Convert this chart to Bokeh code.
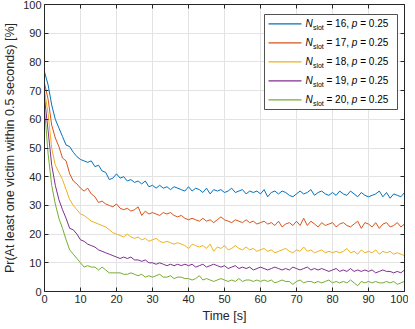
from bokeh.plotting import figure
from bokeh.models import Range1d, LinearAxis, FixedTicker, CustomJSTickFormatter
from bokeh.core.properties import value
from bokeh.embed import file_html
from bokeh.resources import INLINE

time_s = list(range(0, 101))

n_slot = [16, 17, 18, 19, 20]
p_val = 0.25

pr_16 = [76.5, 72, 65, 60, 57, 54, 51, 50.5, 48.5, 47, 46, 45.5, 45, 45.5, 43.5, 44, 42, 41.5, 39, 39.5,
         41, 39.5, 40, 38.5, 39, 38, 38.5, 37.5, 38.5, 36.5, 37, 36, 37, 36, 36.5, 35.5, 36.5, 36, 35.5, 35,
         36.5, 35, 36, 35.5, 34.5, 36, 34, 35.5, 35, 35.5, 34.5, 35, 36, 34.5, 35, 35.5, 34, 35, 34.5, 35,
         34, 35.5, 33, 34.5, 35, 34, 35, 34.5, 33.5, 33, 34, 35, 34, 34.5, 35.5, 33.5, 34.5, 35, 34, 33.5,
         34.5, 33.5, 35, 34, 33.5, 35, 34, 33, 34.5, 33.5, 33, 33.5, 34, 35, 33, 34.5, 32.5, 34, 33.5, 33, 34.5]
pr_17 = [72.5, 67, 58, 53.5, 50.5, 46.5, 45.5, 41, 38.5, 37.5, 36, 35, 36, 34, 33, 31, 31.5, 30.5, 30, 29.5,
         30.5, 29, 28.5, 29, 28, 28.5, 29.5, 26.5, 28, 27, 27.5, 27, 26.5, 27.5, 27, 27.5, 26.5, 26, 26.5, 25.5,
         25, 25.5, 25, 24.5, 25.5, 24.5, 25, 24, 25, 26, 25, 24.5, 24, 25, 24.5, 24, 25, 24, 24.5, 23.5,
         24, 24.5, 23.5, 24, 23, 24.5, 22.5, 23.5, 24, 23, 24.5, 23, 25.5, 23, 24.5, 23.5, 22.5, 24, 23, 23.5,
         24, 22.5, 23.5, 24, 23, 22.5, 23.5, 24.5, 22, 24, 23.5, 22.5, 24, 22, 23.5, 24, 22.5, 23, 24, 22.5, 23.5]
pr_18 = [70, 62, 50, 44, 41.5, 39, 35.5, 32, 30, 28.5, 27, 26.5, 25.5, 24.5, 24, 23.5, 23, 22.5, 21.5, 20.5,
         20, 19.5, 19, 20, 19, 18.5, 19, 18, 18.5, 17.5, 18, 18.5, 17.5, 17, 17.5, 17, 16.5, 17, 16.5, 16,
         15, 16.5, 16, 15.5, 16, 15, 16.5, 14, 15.5, 15, 16, 14.5, 15, 16, 15, 14.5, 15.5, 14.5, 15, 14,
         14.5, 15, 14, 14.5, 13.5, 14, 14.5, 15, 14, 13.5, 14.5, 14, 15.5, 14, 14.5, 13.5, 14, 14.5, 13.5, 14,
         13.5, 14, 13.5, 14, 15, 13.5, 14, 13, 14.5, 13.5, 14, 13.5, 14.5, 13, 14, 13.5, 14, 13, 13.5, 13, 12.5]
pr_19 = [67.5, 56, 44, 37, 32, 28.5, 25.5, 22, 21.5, 20, 18, 17.5, 16.5, 16, 15.5, 14.5, 14, 13.5, 13, 12.5,
         12, 11.5, 12, 11.5, 12, 11, 11, 10.5, 11, 10, 10, 9.5, 10, 9.5, 9, 9.5, 9, 9.5, 9, 9.5,
         9, 9.5, 8.5, 9, 9.5, 8.5, 9, 9.5, 9, 8.5, 9, 8, 8.5, 9, 8, 8.5, 8, 8.5, 7.5, 8,
         8.5, 8, 7.5, 8, 8.5, 8, 7.5, 8, 7.5, 8.5, 8, 7.5, 8, 8.5, 7.5, 8, 7.5, 8, 7.5, 7,
         7.5, 8, 7, 7.5, 7, 8, 7, 7.5, 7, 7.5, 7, 7.5, 6.5, 7, 7.5, 7, 7, 6.5, 7, 6.5, 7.5]
pr_20 = [63.5, 48, 37, 30.5, 25.5, 22, 18, 14.5, 13, 11.5, 10, 8.5, 9, 8.5, 8.5, 7.5, 8.5, 7.5, 6.5, 6.5,
         6.5, 6.5, 6, 6, 6.5, 6, 5.5, 6, 5, 5.5, 5, 5.5, 6, 5, 5, 5.5, 4.5, 5, 5, 4.5,
         4.5, 4, 4.5, 5.5, 4, 4.5, 4, 3.5, 4, 4.5, 4, 3.5, 4, 3.5, 4.5, 3.5, 4, 4, 3.5, 4,
         3.5, 4, 3.5, 4, 3, 3.5, 4, 3.5, 3.5, 2.5, 3.5, 4, 3, 3.5, 3.5, 3, 3.5, 3, 3.5, 4,
         3, 3.5, 3, 3.5, 3, 4, 3, 2, 3.5, 3, 3.5, 3, 3.5, 3, 3, 3.5, 3, 3.5, 2.5, 3, 3.5]

series = [pr_16, pr_17, pr_18, pr_19, pr_20]
colors = ["#0072BD", "#D95319", "#EDB120", "#7E2F8E", "#77AC30"]

x_ticks = [0, 10, 20, 30, 40, 50, 60, 70, 80, 90, 100]
y_ticks = [0, 10, 20, 30, 40, 50, 60, 70, 80, 90, 100]

FONT = "Liberation Sans"
AX = "#262626"
FW, FH = 360, 287

p = figure(frame_width=FW, frame_height=FH,
           x_range=Range1d(0, 100), y_range=Range1d(0, 100),
           output_backend="svg", toolbar_location=None,
           min_border_left=0, min_border_right=4, min_border_top=4, min_border_bottom=0)
p.background_fill_color = "white"
p.border_fill_color = "white"
p.outline_line_color = None

for ax in (p.xaxis[0], p.yaxis[0]):
    ax.major_tick_in = 4
    ax.major_tick_out = 0
    ax.minor_tick_line_color = None
    ax.axis_line_color = AX
    ax.major_tick_line_color = AX
    ax.major_label_text_font = FONT
    ax.major_label_text_font_size = "11px"
    ax.major_label_text_color = AX
    ax.axis_label_text_font = FONT
    ax.axis_label_text_font_size = "12.5px"
    ax.axis_label_text_font_style = "normal"
    ax.axis_label_text_color = AX
    ax.major_label_standoff = 3
    ax.axis_label_standoff = 3

p.xaxis[0].ticker = FixedTicker(ticks=x_ticks)
p.yaxis[0].ticker = FixedTicker(ticks=y_ticks)
p.xaxis[0].axis_label = "Time [s]"
p.yaxis[0].axis_label = "Pr(At least one victim within 0.5 seconds) [%]"

for side, ticks in (("above", x_ticks), ("right", y_ticks)):
    a = LinearAxis(ticker=FixedTicker(ticks=ticks),
                   formatter=CustomJSTickFormatter(code="return ''"),
                   major_tick_in=4, major_tick_out=0, minor_tick_line_color=None,
                   axis_line_color=AX, major_tick_line_color=AX,
                   major_label_standoff=0, major_label_text_font_size="1px")
    p.add_layout(a, side)

p.xgrid.ticker = FixedTicker(ticks=x_ticks)
p.ygrid.ticker = FixedTicker(ticks=y_ticks)
p.grid.grid_line_color = "#e3e3e3"

for ys, c in zip(series, colors):
    p.line(time_s, ys, line_color=c, line_width=1)

# legend (manual, to get subscript and italics)
def dx(px):
    return px * 100.0 / FW

def dy(py):
    return 100.0 - py * 100.0 / FH

box_l, box_r, box_t, box_b = FW - 140, FW - 7, 10, 105
p.quad(left=[dx(box_l)], right=[dx(box_r)], top=[dy(box_t)], bottom=[dy(box_b)],
       fill_color="white", line_color=AX, line_width=0.8)

rows = [dy(box_t + 9.3 + 19 * i) for i in range(len(n_slot))]
p.segment(x0=[dx(box_l + 4)] * 5, x1=[dx(box_l + 37)] * 5, y0=rows, y1=rows,
          line_color=colors, line_width=1.2)

tx = [dx(box_l + 41)] * 5
common = dict(text_font=value(FONT), text_color="#000000", text_baseline="middle", text_align="left")
p.text(x=tx, y=rows, text=["N"] * 5, text_font_size="10px", text_font_style="italic", **common)
p.text(x=tx, y=rows, text=["slot"] * 5, text_font_size="7px", x_offset=7.4, y_offset=3.5, **common)
p.text(x=tx, y=rows, text=[f"= {n}," for n in n_slot], text_font_size="10px", x_offset=21.0, **common)
p.text(x=tx, y=rows, text=["p"] * 5, text_font_size="10px", text_font_style="italic", x_offset=46.3, **common)
p.text(x=tx, y=rows, text=[f"= {p_val}"] * 5, text_font_size="10px", x_offset=54.7, **common)

open("out.html", "w").write(file_html(p, INLINE))
